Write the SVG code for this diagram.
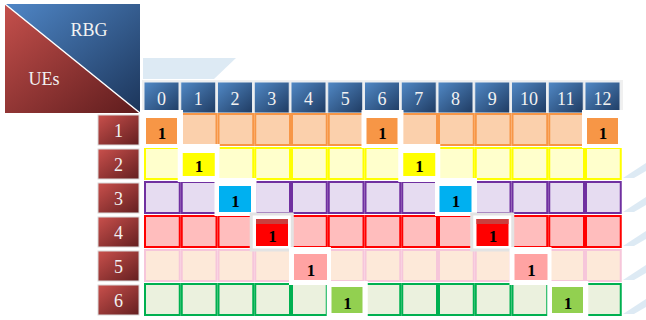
<svg xmlns="http://www.w3.org/2000/svg" width="646" height="320" viewBox="0 0 646 320">
<defs>
<linearGradient id="gBlue" x1="0" y1="0" x2="1" y2="1">
<stop offset="0" stop-color="#5189C6"/><stop offset="1" stop-color="#1F3B62"/>
</linearGradient>
<linearGradient id="gRed" x1="0" y1="0" x2="1" y2="1">
<stop offset="0" stop-color="#C9504C"/><stop offset="1" stop-color="#641F20"/>
</linearGradient>
<linearGradient id="gBlueBig" x1="0" y1="0" x2="1" y2="1">
<stop offset="0" stop-color="#4F86C6"/><stop offset="1" stop-color="#1C355A"/>
</linearGradient>
<linearGradient id="gRedBig" x1="0" y1="0" x2="1" y2="1">
<stop offset="0" stop-color="#C5504C"/><stop offset="1" stop-color="#5E1C1D"/>
</linearGradient>
<style>
.hd{fill:url(#gBlue);stroke:#E8ECF0;stroke-width:1}
.lb{fill:url(#gRed);stroke:#D9D9D9;stroke-width:1}
.ht{font-family:"Liberation Serif","DejaVu Serif",serif;font-size:18px;fill:#F2F2F2;text-anchor:middle}
.one{font-family:"Liberation Serif","DejaVu Serif",serif;font-size:17px;font-weight:bold;fill:#000;text-anchor:middle}
.r1{fill:#FBD0AC;stroke:#F79646;stroke-width:2}
.r2{fill:#FFFFCC;stroke:#FFFF00;stroke-width:2}
.r3{fill:#E6DCF1;stroke:#7030A0;stroke-width:2}
.r4{fill:#FFBDBD;stroke:#FF0000;stroke-width:2}
.r5{fill:#FDE9D9;stroke:#F6C6DA;stroke-width:2}
.r6{fill:#EBF1DE;stroke:#00B050;stroke-width:2}
.fr{fill:#FFFFFF}
.sh{fill:#D4E5F1;opacity:0.8}
</style>
</defs>

<rect width="646" height="320" fill="#FFFFFF"/>

<!-- shadows -->
<g id="shadows">
<polygon class="sh" points="143,58 236,58 214,79 143,79"/>
<polygon class="sh" points="623,178 646,163 646,171 634,178"/>
<polygon class="sh" points="623,212 646,197 646,205 634,212"/>
<polygon class="sh" points="623,246 646,231 646,239 634,246"/>
<polygon class="sh" points="623,280 646,265 646,273 634,280"/>
<polygon class="sh" points="623,314 646,299 646,307 634,314"/>
</g>

<!-- corner -->
<g id="corner">
<polygon points="5,4 140,4 140,113" fill="url(#gBlueBig)"/>
<polygon points="5,4 140,113 5,113" fill="url(#gRedBig)"/>
<line x1="5" y1="4" x2="140" y2="113" stroke="#FFFFFF" stroke-width="1.5"/>
<text class="ht" x="89" y="36">RBG</text>
<text class="ht" x="44" y="85">UEs</text>
</g>

<!-- column headers -->
<g id="headers">
<rect x="142" y="80" width="481" height="35" fill="#F0F0F0"/>
<rect class="hd" x="144" y="82" width="35" height="31"/>
<rect class="hd" x="180.75" y="82" width="35" height="31"/>
<rect class="hd" x="217.5" y="82" width="35" height="31"/>
<rect class="hd" x="254.25" y="82" width="35" height="31"/>
<rect class="hd" x="291" y="82" width="35" height="31"/>
<rect class="hd" x="327.75" y="82" width="35" height="31"/>
<rect class="hd" x="364.5" y="82" width="35" height="31"/>
<rect class="hd" x="401.25" y="82" width="35" height="31"/>
<rect class="hd" x="438" y="82" width="35" height="31"/>
<rect class="hd" x="474.75" y="82" width="35" height="31"/>
<rect class="hd" x="511.5" y="82" width="35" height="31"/>
<rect class="hd" x="548.25" y="82" width="35" height="31"/>
<rect class="hd" x="585" y="82" width="35" height="31"/>
<text class="ht" x="161.5" y="105">0</text>
<text class="ht" x="198.25" y="105">1</text>
<text class="ht" x="235" y="105">2</text>
<text class="ht" x="271.75" y="105">3</text>
<text class="ht" x="308.5" y="105">4</text>
<text class="ht" x="345.25" y="105">5</text>
<text class="ht" x="382" y="105">6</text>
<text class="ht" x="418.75" y="105">7</text>
<text class="ht" x="455.5" y="105">8</text>
<text class="ht" x="492.25" y="105">9</text>
<text class="ht" x="529" y="105">10</text>
<text class="ht" x="565.75" y="105">11</text>
<text class="ht" x="602.5" y="105">12</text>
</g>

<!-- row labels -->
<g id="rowlabels">
<rect class="lb" x="98" y="115" width="41" height="30"/>
<rect class="lb" x="98" y="149" width="41" height="30"/>
<rect class="lb" x="98" y="183" width="41" height="30"/>
<rect class="lb" x="98" y="217" width="41" height="30"/>
<rect class="lb" x="98" y="251" width="41" height="30"/>
<rect class="lb" x="98" y="285" width="41" height="30"/>
<text class="ht" x="118.5" y="137">1</text>
<text class="ht" x="118.5" y="171">2</text>
<text class="ht" x="118.5" y="205">3</text>
<text class="ht" x="118.5" y="239">4</text>
<text class="ht" x="118.5" y="273">5</text>
<text class="ht" x="118.5" y="307">6</text>
</g>

<!-- grid rows -->
<g id="row1">
<rect class="r1" x="145" y="114" width="34.75" height="31"/>
<rect class="r1" x="181.75" y="114" width="34.75" height="31"/>
<rect class="r1" x="218.5" y="114" width="34.75" height="31"/>
<rect class="r1" x="255.25" y="114" width="34.75" height="31"/>
<rect class="r1" x="292" y="114" width="34.75" height="31"/>
<rect class="r1" x="328.75" y="114" width="34.75" height="31"/>
<rect class="r1" x="365.5" y="114" width="34.75" height="31"/>
<rect class="r1" x="402.25" y="114" width="34.75" height="31"/>
<rect class="r1" x="439" y="114" width="34.75" height="31"/>
<rect class="r1" x="475.75" y="114" width="34.75" height="31"/>
<rect class="r1" x="512.5" y="114" width="34.75" height="31"/>
<rect class="r1" x="549.25" y="114" width="34.75" height="31"/>
<rect class="r1" x="586" y="114" width="34.75" height="31"/>
</g>
<g id="row2">
<rect class="r2" x="145" y="148" width="34.75" height="31"/>
<rect class="r2" x="181.75" y="148" width="34.75" height="31"/>
<rect class="r2" x="218.5" y="148" width="34.75" height="31"/>
<rect class="r2" x="255.25" y="148" width="34.75" height="31"/>
<rect class="r2" x="292" y="148" width="34.75" height="31"/>
<rect class="r2" x="328.75" y="148" width="34.75" height="31"/>
<rect class="r2" x="365.5" y="148" width="34.75" height="31"/>
<rect class="r2" x="402.25" y="148" width="34.75" height="31"/>
<rect class="r2" x="439" y="148" width="34.75" height="31"/>
<rect class="r2" x="475.75" y="148" width="34.75" height="31"/>
<rect class="r2" x="512.5" y="148" width="34.75" height="31"/>
<rect class="r2" x="549.25" y="148" width="34.75" height="31"/>
<rect class="r2" x="586" y="148" width="34.75" height="31"/>
</g>
<g id="row3">
<rect class="r3" x="145" y="182" width="34.75" height="31"/>
<rect class="r3" x="181.75" y="182" width="34.75" height="31"/>
<rect class="r3" x="218.5" y="182" width="34.75" height="31"/>
<rect class="r3" x="255.25" y="182" width="34.75" height="31"/>
<rect class="r3" x="292" y="182" width="34.75" height="31"/>
<rect class="r3" x="328.75" y="182" width="34.75" height="31"/>
<rect class="r3" x="365.5" y="182" width="34.75" height="31"/>
<rect class="r3" x="402.25" y="182" width="34.75" height="31"/>
<rect class="r3" x="439" y="182" width="34.75" height="31"/>
<rect class="r3" x="475.75" y="182" width="34.75" height="31"/>
<rect class="r3" x="512.5" y="182" width="34.75" height="31"/>
<rect class="r3" x="549.25" y="182" width="34.75" height="31"/>
<rect class="r3" x="586" y="182" width="34.75" height="31"/>
</g>
<g id="row4">
<rect class="r4" x="145" y="216" width="34.75" height="31"/>
<rect class="r4" x="181.75" y="216" width="34.75" height="31"/>
<rect class="r4" x="218.5" y="216" width="34.75" height="31"/>
<rect class="r4" x="255.25" y="216" width="34.75" height="31"/>
<rect class="r4" x="292" y="216" width="34.75" height="31"/>
<rect class="r4" x="328.75" y="216" width="34.75" height="31"/>
<rect class="r4" x="365.5" y="216" width="34.75" height="31"/>
<rect class="r4" x="402.25" y="216" width="34.75" height="31"/>
<rect class="r4" x="439" y="216" width="34.75" height="31"/>
<rect class="r4" x="475.75" y="216" width="34.75" height="31"/>
<rect class="r4" x="512.5" y="216" width="34.75" height="31"/>
<rect class="r4" x="549.25" y="216" width="34.75" height="31"/>
<rect class="r4" x="586" y="216" width="34.75" height="31"/>
</g>
<g id="row5">
<rect class="r5" x="145" y="250" width="34.75" height="31"/>
<rect class="r5" x="181.75" y="250" width="34.75" height="31"/>
<rect class="r5" x="218.5" y="250" width="34.75" height="31"/>
<rect class="r5" x="255.25" y="250" width="34.75" height="31"/>
<rect class="r5" x="292" y="250" width="34.75" height="31"/>
<rect class="r5" x="328.75" y="250" width="34.75" height="31"/>
<rect class="r5" x="365.5" y="250" width="34.75" height="31"/>
<rect class="r5" x="402.25" y="250" width="34.75" height="31"/>
<rect class="r5" x="439" y="250" width="34.75" height="31"/>
<rect class="r5" x="475.75" y="250" width="34.75" height="31"/>
<rect class="r5" x="512.5" y="250" width="34.75" height="31"/>
<rect class="r5" x="549.25" y="250" width="34.75" height="31"/>
<rect class="r5" x="586" y="250" width="34.75" height="31"/>
</g>
<g id="row6">
<rect class="r6" x="145" y="284" width="34.75" height="31"/>
<rect class="r6" x="181.75" y="284" width="34.75" height="31"/>
<rect class="r6" x="218.5" y="284" width="34.75" height="31"/>
<rect class="r6" x="255.25" y="284" width="34.75" height="31"/>
<rect class="r6" x="292" y="284" width="34.75" height="31"/>
<rect class="r6" x="328.75" y="284" width="34.75" height="31"/>
<rect class="r6" x="365.5" y="284" width="34.75" height="31"/>
<rect class="r6" x="402.25" y="284" width="34.75" height="31"/>
<rect class="r6" x="439" y="284" width="34.75" height="31"/>
<rect class="r6" x="475.75" y="284" width="34.75" height="31"/>
<rect class="r6" x="512.5" y="284" width="34.75" height="31"/>
<rect class="r6" x="549.25" y="284" width="34.75" height="31"/>
<rect class="r6" x="586" y="284" width="34.75" height="31"/>
</g>

<!-- highlighted allocations -->
<g id="alloc1">
<rect class="fr" x="141" y="110" width="42" height="38"/>
<rect x="146" y="118" width="31" height="26" fill="#F79646"/>
<text class="one" x="162" y="139">1</text>
<rect class="fr" x="361.5" y="110" width="42" height="38"/>
<rect x="366.5" y="118" width="31" height="26" fill="#F79646"/>
<text class="one" x="382.5" y="139">1</text>
<rect class="fr" x="582" y="110" width="42" height="38"/>
<rect x="587" y="118" width="31" height="26" fill="#F79646"/>
<text class="one" x="603" y="139">1</text>
</g>
<g id="alloc2">
<rect class="fr" x="177.75" y="144" width="42" height="38"/>
<rect x="182.75" y="153" width="32" height="23" fill="#FFFF00"/>
<text class="one" x="199" y="172">1</text>
<rect class="fr" x="398.25" y="144" width="42" height="38"/>
<rect x="403.25" y="153" width="32" height="23" fill="#FFFF00"/>
<text class="one" x="419.5" y="172">1</text>
</g>
<g id="alloc3">
<rect class="fr" x="214.5" y="178" width="42" height="38"/>
<rect x="219" y="186" width="32" height="26" fill="#00B0F0"/>
<text class="one" x="235.5" y="207">1</text>
<rect class="fr" x="435" y="178" width="42" height="38"/>
<rect x="439.5" y="186" width="32" height="26" fill="#00B0F0"/>
<text class="one" x="456" y="207">1</text>
</g>
<g id="alloc4">
<rect x="251.25" y="214" width="41" height="36" fill="#FFFFFF" stroke="#E3E3E3" stroke-width="3"/>
<rect x="256" y="219" width="32" height="27" fill="#FF0000"/>
<rect x="256" y="219" width="32" height="5" fill="#C9403E"/>
<text class="one" x="272.5" y="242">1</text>
<rect x="471.75" y="214" width="41" height="36" fill="#FFFFFF" stroke="#E3E3E3" stroke-width="3"/>
<rect x="476.5" y="219" width="32" height="27" fill="#FF0000"/>
<rect x="476.5" y="219" width="32" height="5" fill="#C9403E"/>
<text class="one" x="493" y="242">1</text>
</g>
<g id="alloc5">
<rect class="fr" x="289" y="247" width="42" height="38"/>
<rect x="294" y="254" width="33" height="26" fill="#FFA3A3"/>
<text class="one" x="311" y="276">1</text>
<rect class="fr" x="509.5" y="247" width="42" height="38"/>
<rect x="514.5" y="254" width="33" height="26" fill="#FFA3A3"/>
<text class="one" x="531.5" y="276">1</text>
</g>
<g id="alloc6">
<rect class="fr" x="326.75" y="281" width="41" height="39"/>
<rect x="331.5" y="287" width="31" height="26" fill="#92D050"/>
<text class="one" x="347.5" y="309">1</text>
<rect class="fr" x="547.25" y="281" width="41" height="39"/>
<rect x="552" y="287" width="31" height="26" fill="#92D050"/>
<text class="one" x="568" y="309">1</text>
</g>
</svg>
